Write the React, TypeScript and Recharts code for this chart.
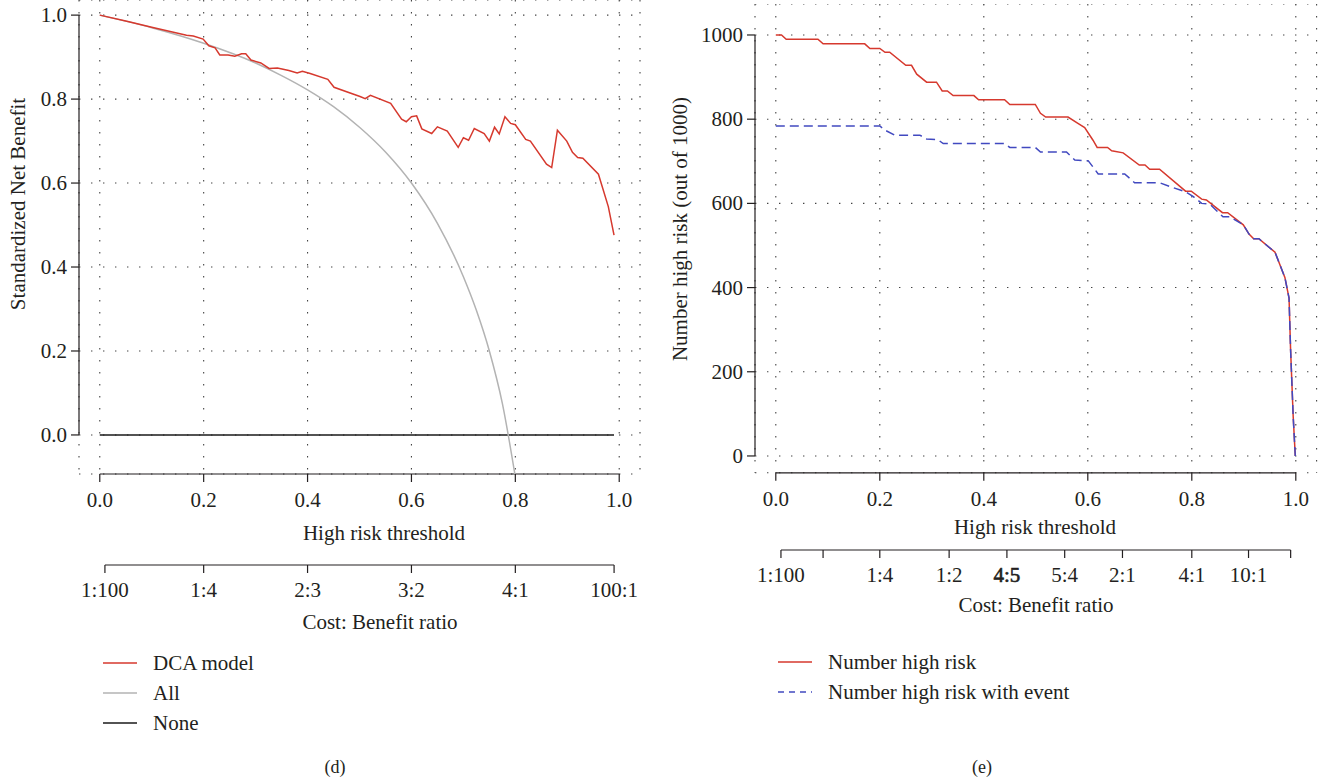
import React from "react";
import { CartesianGrid, Line, LineChart, ReferenceLine, XAxis, YAxis } from "recharts";

const FONT = '"Liberation Serif", "Times New Roman", serif';
const INK = "#231f20";
const GRID = "#444444";
const RED = "#d6392e";
const GREY = "#b3b3b3";
const BLUE = "#4149c0";
const FS = 21;
const TICK = 8;

// (d) standardized net benefit against high risk threshold
const modelT = [
  0, 0.05, 0.1, 0.167, 0.18, 0.199, 0.21, 0.222, 0.231, 0.247, 0.26, 0.273, 0.281, 0.291, 0.31,
  0.326, 0.342, 0.364, 0.38, 0.39, 0.405, 0.439, 0.451, 0.501, 0.511, 0.521, 0.56, 0.581, 0.59,
  0.6, 0.61, 0.62, 0.639, 0.65, 0.669, 0.69, 0.7, 0.71, 0.721, 0.74, 0.75, 0.76, 0.769, 0.78,
  0.791, 0.8, 0.82, 0.829, 0.86, 0.87, 0.881, 0.899, 0.91, 0.92, 0.93, 0.96, 0.979, 0.99,
];
const modelNB = [
  1.0, 0.986, 0.971, 0.952, 0.95, 0.943, 0.927, 0.922, 0.905, 0.905, 0.902, 0.908, 0.908, 0.893,
  0.886, 0.873, 0.874, 0.868, 0.862, 0.866, 0.861, 0.847, 0.828, 0.806, 0.801, 0.809, 0.79, 0.752,
  0.746, 0.758, 0.76, 0.729, 0.718, 0.734, 0.724, 0.685, 0.708, 0.702, 0.73, 0.718, 0.7, 0.733,
  0.717, 0.758, 0.742, 0.739, 0.704, 0.7, 0.645, 0.637, 0.726, 0.7, 0.673, 0.661, 0.659, 0.621,
  0.544, 0.476,
];
const allT = [0, 0.1, 0.2, 0.3, 0.35, 0.4, 0.45, 0.5, 0.55, 0.6, 0.65, 0.7, 0.725, 0.75, 0.775, 0.8];
const allNB = [1.0, 0.97, 0.933, 0.886, 0.856, 0.822, 0.782, 0.733, 0.674, 0.6, 0.504, 0.377, 0.297, 0.2, 0.075, -0.1];
const noneT = [0, 0.99];
const noneNB = [0, 0];

// (e) number high risk out of 1000
const highT = [
  0, 0.011, 0.02, 0.081, 0.091, 0.171, 0.181, 0.2, 0.21, 0.219, 0.25, 0.261, 0.271, 0.29, 0.309,
  0.32, 0.33, 0.341, 0.381, 0.39, 0.44, 0.45, 0.499, 0.509, 0.519, 0.562, 0.581, 0.594, 0.61,
  0.618, 0.638, 0.646, 0.668, 0.699, 0.71, 0.719, 0.738, 0.788, 0.799, 0.819, 0.828, 0.859,
  0.869, 0.899, 0.91, 0.919, 0.929, 0.96, 0.979, 0.987, 0.99, 0.995, 0.999,
];
const highN = [
  1000, 1000, 990, 990, 979, 979, 968, 968, 959, 959, 928, 928, 907, 888, 888, 867, 867, 856, 856,
  846, 846, 835, 835, 814, 805, 805, 790, 780, 750, 733, 733, 725, 720, 691, 691, 681, 681, 629,
  629, 610, 608, 578, 578, 549, 527, 516, 516, 484, 424, 375, 252, 93, 0,
];
const eventT = [
  0, 0.2, 0.21, 0.229, 0.277, 0.29, 0.312, 0.322, 0.44, 0.45, 0.499, 0.509, 0.559, 0.575, 0.601,
  0.62, 0.671, 0.69, 0.738, 0.758, 0.787, 0.803, 0.819, 0.835, 0.86, 0.873, 0.899, 0.91, 0.919,
  0.929, 0.96, 0.979, 0.987, 0.99, 0.995, 0.999,
];
const eventN = [
  784, 784, 774, 762, 762, 753, 751, 742, 742, 733, 733, 722, 722, 703, 701, 670, 670, 649, 649,
  640, 628, 616, 600, 598, 568, 568, 549, 527, 516, 516, 484, 424, 375, 252, 93, 0,
];

const thresholdTicks = [0, 0.2, 0.4, 0.6, 0.8, 1];
const benefitTicks = [0, 0.2, 0.4, 0.6, 0.8, 1];
const countTicks = [0, 200, 400, 600, 800, 1000];
const costLabelsD = ["1:100", "1:4", "2:3", "3:2", "4:1", "100:1"];
const costLabelsE = ["1:100", "1:10", "1:4", "1:2", "4:5", "5:4", "2:1", "4:1", "10:1", "100:1"];
const hiddenCostE = ["1:10", "100:1"];
const heavyCostE = ["4:5"];

const rows = (ts: number[], vs: number[]) => ts.map((t, i) => ({ t, v: vs[i] }));

// cost:benefit a:b sits at threshold a/(a+b)
const ratioToThreshold = (label: string) => {
  const [a, b] = label.split(":").map(Number);
  return a / (a + b);
};

const txt = { fontFamily: FONT, fontSize: FS, fill: INK };

function bottomTick(fmt: (v: number) => string) {
  return (p: any) => (
    <g>
      <line x1={p.x} y1={p.y} x2={p.x} y2={p.y + TICK} stroke={INK} strokeWidth={1.2} />
      <text x={p.x} y={p.y + 26} textAnchor="middle" dominantBaseline="central" {...txt}>
        {fmt(p.payload.value)}
      </text>
    </g>
  );
}

function leftTick(fmt: (v: number) => string) {
  return (p: any) => (
    <g>
      <line x1={p.x - TICK} y1={p.y} x2={p.x} y2={p.y} stroke={INK} strokeWidth={1.2} />
      <text x={p.x - 12} y={p.y} textAnchor="end" dominantBaseline="central" {...txt}>
        {fmt(p.payload.value)}
      </text>
    </g>
  );
}

// R style axis: the line only runs from the first tick to the last one
function costTick(labels: string[], hidden: string[], heavy: string[], pxPerUnit: number) {
  const ts = labels.map(ratioToThreshold);
  const span = (ts[ts.length - 1] - ts[0]) * pxPerUnit;
  return (p: any) => {
    const i = typeof p.index === "number" ? p.index : ts.indexOf(p.payload.value);
    const label = labels[i];
    return (
      <g>
        {i === 0 && <line x1={p.x} y1={p.y} x2={p.x + span} y2={p.y} stroke={INK} strokeWidth={1.2} />}
        <line x1={p.x} y1={p.y} x2={p.x} y2={p.y + TICK} stroke={INK} strokeWidth={1.2} />
        {!hidden.includes(label) && (
          <text
            x={p.x}
            y={p.y + 25}
            textAnchor="middle"
            dominantBaseline="central"
            stroke={heavy.includes(label) ? INK : "none"}
            strokeWidth={0.6}
            {...txt}
          >
            {label}
          </text>
        )}
      </g>
    );
  };
}

const D_X: [number, number] = [-0.04, 1.04];
const D_Y: [number, number] = [-0.093, 1.036];
const D_W = 660;
const D_RIGHT = 20;
const Y_W = 79;

function NetBenefitChart() {
  const px = (D_W - Y_W - D_RIGHT) / (D_X[1] - D_X[0]);
  return (
    <LineChart width={D_W} height={640} margin={{ top: 0, right: D_RIGHT, bottom: 0, left: 0 }}>
      <CartesianGrid stroke={GRID} strokeWidth={1.1} strokeDasharray="1.4 10.6" />
      <XAxis
        type="number"
        dataKey="t"
        domain={D_X}
        allowDataOverflow
        ticks={thresholdTicks}
        interval={0}
        height={91}
        axisLine={false}
        tickLine={false}
        tickSize={0}
        tickMargin={0}
        tick={bottomTick((v) => v.toFixed(1))}
      />
      <XAxis
        xAxisId="cost"
        type="number"
        dataKey="t"
        domain={D_X}
        allowDataOverflow
        ticks={costLabelsD.map(ratioToThreshold)}
        interval={0}
        height={75}
        axisLine={false}
        tickLine={false}
        tickSize={0}
        tickMargin={0}
        tick={costTick(costLabelsD, [], [], px)}
      />
      <YAxis
        type="number"
        domain={D_Y}
        allowDataOverflow
        ticks={benefitTicks}
        interval={0}
        width={Y_W}
        axisLine={false}
        tickLine={false}
        tickSize={0}
        tickMargin={0}
        tick={leftTick((v) => v.toFixed(1))}
      />
      <ReferenceLine segment={[{ x: 0, y: D_Y[0] }, { x: 1, y: D_Y[0] }]} stroke={INK} strokeWidth={1.2} ifOverflow="visible" />
      <ReferenceLine segment={[{ x: D_X[0], y: 0 }, { x: D_X[0], y: 1 }]} stroke={INK} strokeWidth={1.2} ifOverflow="visible" />
      <Line data={rows(noneT, noneNB)} dataKey="v" type="linear" stroke="#1a1a1a" strokeWidth={1.5} dot={false} isAnimationActive={false} />
      <Line data={rows(allT, allNB)} dataKey="v" type="monotone" stroke={GREY} strokeWidth={1.5} dot={false} isAnimationActive={false} />
      <Line data={rows(modelT, modelNB)} dataKey="v" type="linear" stroke={RED} strokeWidth={1.5} dot={false} isAnimationActive={false} />
    </LineChart>
  );
}

const E_X: [number, number] = [-0.04, 1.04];
const E_Y: [number, number] = [-40, 1073.6];
const E_W = 647;
const E_RIGHT = 6.4;

function ImpactChart() {
  const px = (E_W - Y_W - E_RIGHT) / (E_X[1] - E_X[0]);
  return (
    <LineChart width={E_W} height={616} margin={{ top: 0, right: E_RIGHT, bottom: 0, left: 0 }}>
      <CartesianGrid stroke={GRID} strokeWidth={1.1} strokeDasharray="1.4 10.6" />
      <XAxis
        type="number"
        dataKey="t"
        domain={E_X}
        allowDataOverflow
        ticks={thresholdTicks}
        interval={0}
        height={77.2}
        axisLine={false}
        tickLine={false}
        tickSize={0}
        tickMargin={0}
        tick={bottomTick((v) => v.toFixed(1))}
      />
      <XAxis
        xAxisId="cost"
        type="number"
        dataKey="t"
        domain={E_X}
        allowDataOverflow
        ticks={costLabelsE.map(ratioToThreshold)}
        interval={0}
        height={70}
        axisLine={false}
        tickLine={false}
        tickSize={0}
        tickMargin={0}
        tick={costTick(costLabelsE, hiddenCostE, heavyCostE, px)}
      />
      <YAxis
        type="number"
        domain={E_Y}
        allowDataOverflow
        ticks={countTicks}
        interval={0}
        width={Y_W}
        axisLine={false}
        tickLine={false}
        tickSize={0}
        tickMargin={0}
        tick={leftTick((v) => String(v))}
      />
      <ReferenceLine segment={[{ x: 0, y: E_Y[0] }, { x: 1, y: E_Y[0] }]} stroke={INK} strokeWidth={1.2} ifOverflow="visible" />
      <ReferenceLine segment={[{ x: E_X[0], y: 0 }, { x: E_X[0], y: 1000 }]} stroke={INK} strokeWidth={1.2} ifOverflow="visible" />
      <Line data={rows(highT, highN)} dataKey="v" type="linear" stroke={RED} strokeWidth={1.5} dot={false} isAnimationActive={false} />
      <Line data={rows(eventT, eventN)} dataKey="v" type="linear" stroke={BLUE} strokeWidth={1.5} strokeDasharray="9 5" dot={false} isAnimationActive={false} />
    </LineChart>
  );
}

const legendD = [
  { name: "DCA model", color: RED, dash: undefined },
  { name: "All", color: GREY, dash: undefined },
  { name: "None", color: "#1a1a1a", dash: undefined },
];
const legendE = [
  { name: "Number high risk", color: RED, dash: undefined },
  { name: "Number high risk with event", color: BLUE, dash: "6 5" },
];

function Legend({ items, x, y, gap }: { items: typeof legendD; x: number; y: number; gap: number }) {
  return (
    <g>
      {items.map((it, i) => (
        <g key={it.name}>
          <line x1={x} x2={x + 34} y1={y + i * gap} y2={y + i * gap} stroke={it.color} strokeWidth={1.5} strokeDasharray={it.dash} />
          <text x={x + 50} y={y + i * gap} dominantBaseline="central" {...txt}>
            {it.name}
          </text>
        </g>
      ))}
    </g>
  );
}

function Captions() {
  return (
    <svg width={1323} height={777} style={{ position: "absolute", left: 0, top: 0, pointerEvents: "none" }}>
      <text x={18} y={204} textAnchor="middle" dominantBaseline="central" transform="rotate(-90 18 204)" {...txt}>
        Standardized Net Benefit
      </text>
      <text x={384} y={533} textAnchor="middle" dominantBaseline="central" {...txt}>High risk threshold</text>
      <text x={380} y={622} textAnchor="middle" dominantBaseline="central" {...txt}>Cost: Benefit ratio</text>
      <text x={680} y={229} textAnchor="middle" dominantBaseline="central" transform="rotate(-90 680 229)" {...txt}>
        Number high risk (out of 1000)
      </text>
      <text x={1035} y={527} textAnchor="middle" dominantBaseline="central" {...txt}>High risk threshold</text>
      <text x={1036} y={605} textAnchor="middle" dominantBaseline="central" {...txt}>Cost: Benefit ratio</text>
      <Legend items={legendD} x={103} y={663} gap={30} />
      <Legend items={legendE} x={778} y={662} gap={30} />
      <text x={335} y={767} textAnchor="middle" dominantBaseline="central" {...txt} fontSize={18}>(d)</text>
      <text x={982} y={767} textAnchor="middle" dominantBaseline="central" {...txt} fontSize={18}>(e)</text>
    </svg>
  );
}

export default function App() {
  return (
    <div style={{ position: "absolute", left: 0, top: 0, width: 1323, height: 777, background: "#fff", fontFamily: FONT }}>
      <div style={{ position: "absolute", left: 0, top: 0 }}>
        <NetBenefitChart />
      </div>
      <div style={{ position: "absolute", left: 676, top: 4 }}>
        <ImpactChart />
      </div>
      <Captions />
    </div>
  );
}
